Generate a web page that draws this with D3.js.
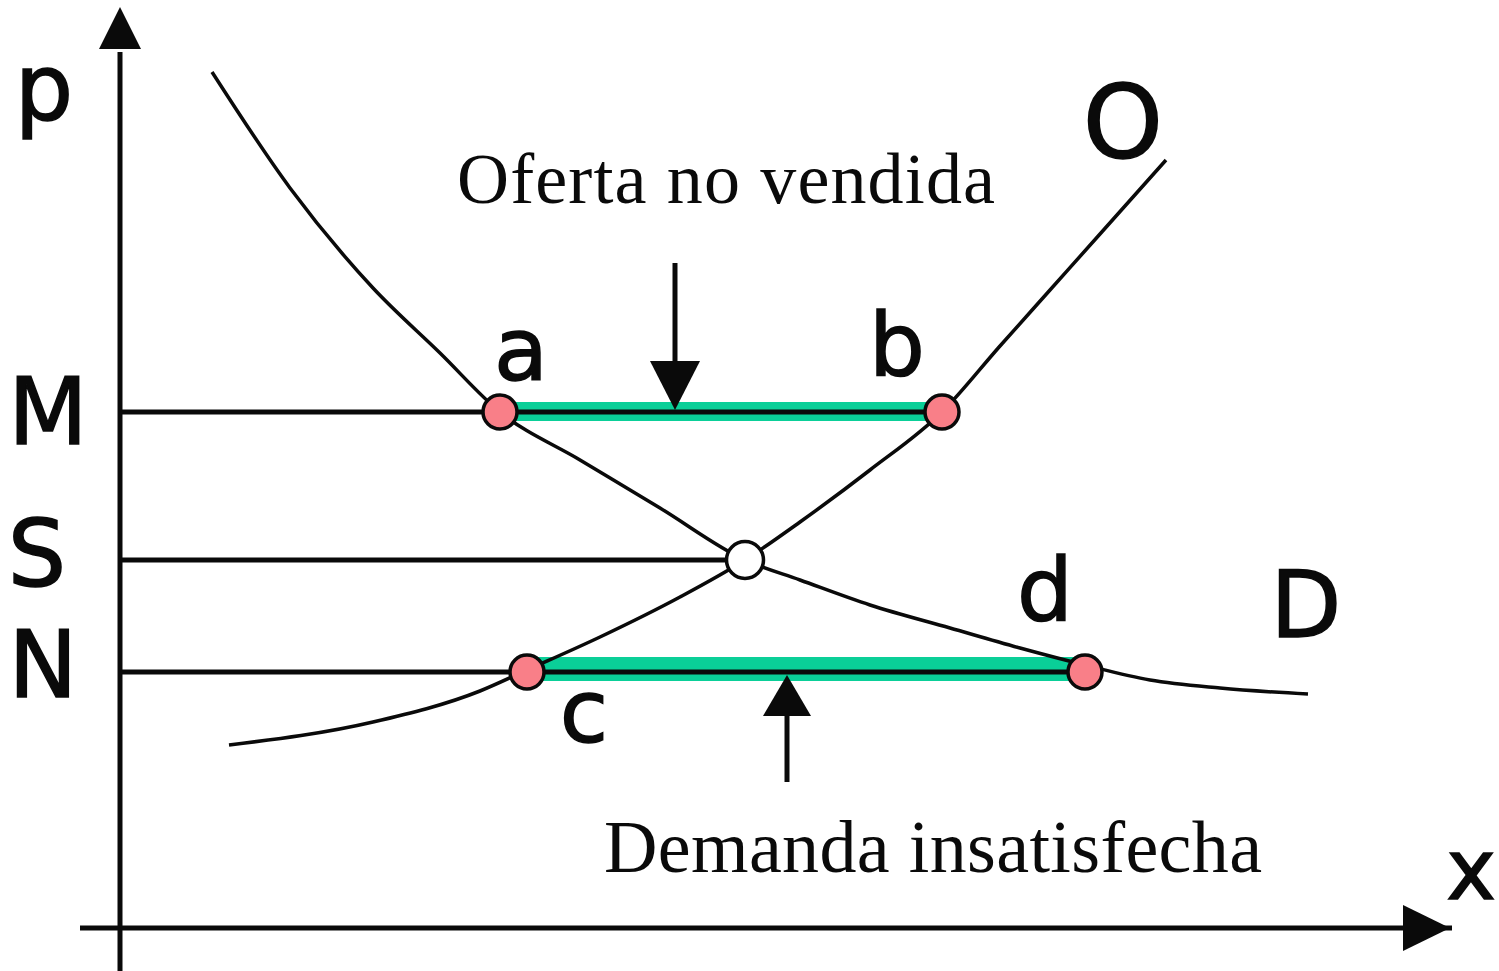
<!DOCTYPE html>
<html>
<head>
<meta charset="utf-8">
<script src="https://cdn.jsdelivr.net/npm/d3@7"></script>
<style>
  html, body { margin: 0; padding: 0; background: #fff; }
  svg { display: block; }
</style>
</head>
<body>
<div id="chart"></div>
<script>
// price levels on the vertical axis
var levelLabels = ["M", "S", "N"];
var levelPrices = [5.16, 3.68, 2.56];

// demand curve (D)
var demandQty   = [0.92, 1.70, 2.53, 3.20, 3.80, 4.60, 5.40, 6.25, 6.80, 7.50, 8.30, 9.00, 9.65, 10.30, 11.00, 11.88];
var demandPrice = [8.56, 7.40, 6.40, 5.75, 5.16, 4.68, 4.20, 3.68, 3.48, 3.23, 3.00, 2.80, 2.63, 2.48, 2.40, 2.34];

// supply curve (O)
var supplyQty   = [1.09, 2.53, 3.60, 4.07, 4.80, 5.60, 6.25, 6.80, 7.50, 8.22, 8.80, 9.30, 9.80, 10.46];
var supplyPrice = [1.83, 2.06, 2.37, 2.58, 2.91, 3.31, 3.68, 4.06, 4.58, 5.16, 5.82, 6.38, 6.94, 7.68];

// marked points
var pointLabels = ["a", "b", "c", "d"];
var pointQty    = [3.80, 8.22, 4.07, 9.65];
var pointPrice  = [5.16, 5.16, 2.56, 2.56];

// equilibrium
var eqQty = 6.25, eqPrice = 3.68;

// annotations
var surplusText  = "Oferta no vendida";
var shortageText = "Demanda insatisfecha";
var surplusArrowQty = 5.55, surplusArrowTop = 6.65;
var shortageArrowQty = 6.67, shortageArrowBottom = 1.46;

var width = 1499, height = 971;
var pink = "#f97f88", green = "#0acf98", ink = "#0a0a0a";

var x = d3.scaleLinear().domain([0, 13.3]).range([120, 1450]);
var y = d3.scaleLinear().domain([0, 9.21]).range([928, 7]);

var svg = d3.select("#chart").append("svg")
    .attr("width", width)
    .attr("height", height)
    .style("background", "#fff");

//axes
svg.append("line")
    .attr("x1", x(0)).attr("x2", x(0))
    .attr("y1", y(8.76)).attr("y2", height)
    .attr("stroke", ink).attr("stroke-width", 5);
svg.append("path")
    .attr("d", "M" + (x(0) - 21) + "," + y(8.79) + "L" + x(0) + "," + y(9.21) + "L" + (x(0) + 21) + "," + y(8.79) + "Z")
    .attr("fill", ink);
svg.append("line")
    .attr("x1", 80).attr("x2", x(13.32))
    .attr("y1", y(0)).attr("y2", y(0))
    .attr("stroke", ink).attr("stroke-width", 5);
svg.append("path")
    .attr("d", "M" + x(12.83) + "," + (y(0) - 23) + "L" + x(13.3) + "," + y(0) + "L" + x(12.83) + "," + (y(0) + 23) + "Z")
    .attr("fill", ink);

var labelFont = "DejaVu Sans, sans-serif";
function bigLabel(px, py, size, anchor, txt) {
    return svg.append("text").attr("x", px).attr("y", py)
        .attr("text-anchor", anchor)
        .attr("font-family", labelFont).attr("font-size", size)
        .attr("fill", ink).attr("stroke", ink).attr("stroke-width", 1.5)
        .text(txt);
}
bigLabel(44, 120, 92, "middle", "p");
bigLabel(1496, 899, 84, "end", "x");

// green bands between the marked points
var bands = [[0, 1, 10, 9], [2, 3, 15, 9]];
bands.forEach(function (b) {
    svg.append("rect")
        .attr("x", x(pointQty[b[0]]))
        .attr("y", y(pointPrice[b[0]]) - b[2])
        .attr("width", x(pointQty[b[1]]) - x(pointQty[b[0]]))
        .attr("height", b[2] + b[3])
        .attr("fill", green);
});

// horizontal price lines
var levelEnds = [pointQty[1], eqQty, pointQty[3]];
levelPrices.forEach(function (p, i) {
    svg.append("line")
        .attr("x1", x(0)).attr("x2", x(levelEnds[i]))
        .attr("y1", y(p)).attr("y2", y(p))
        .attr("stroke", ink).attr("stroke-width", 5);
    bigLabel([48, 37, 43][i], y(p) + [32, 26, 25][i], 92, "middle", levelLabels[i]);
});

// curves
var line = d3.line()
    .x(function (d) { return x(d[0]); })
    .y(function (d) { return y(d[1]); })
    .curve(d3.curveMonotoneX);

svg.append("path")
    .datum(d3.zip(demandQty, demandPrice))
    .attr("d", line)
    .attr("fill", "none").attr("stroke", ink).attr("stroke-width", 3.5);
svg.append("path")
    .datum(d3.zip(supplyQty, supplyPrice))
    .attr("d", line)
    .attr("fill", "none").attr("stroke", ink).attr("stroke-width", 3.5);

bigLabel(1123, 158, 102, "middle", "O");
bigLabel(1306, 637, 92, "middle", "D");

// arrows
svg.append("line")
    .attr("x1", x(surplusArrowQty)).attr("x2", x(surplusArrowQty))
    .attr("y1", y(surplusArrowTop)).attr("y2", y(levelPrices[0]) - 40)
    .attr("stroke", ink).attr("stroke-width", 5);
svg.append("path")
    .attr("d", "M" + (x(surplusArrowQty) - 25) + "," + (y(levelPrices[0]) - 51) +
               "L" + (x(surplusArrowQty) + 25) + "," + (y(levelPrices[0]) - 51) +
               "L" + x(surplusArrowQty) + "," + (y(levelPrices[0]) - 2) + "Z")
    .attr("fill", ink);
svg.append("line")
    .attr("x1", x(shortageArrowQty)).attr("x2", x(shortageArrowQty))
    .attr("y1", y(shortageArrowBottom)).attr("y2", y(levelPrices[2]) + 40)
    .attr("stroke", ink).attr("stroke-width", 5);
svg.append("path")
    .attr("d", "M" + (x(shortageArrowQty) - 24) + "," + (y(levelPrices[2]) + 44) +
               "L" + (x(shortageArrowQty) + 24) + "," + (y(levelPrices[2]) + 44) +
               "L" + x(shortageArrowQty) + "," + (y(levelPrices[2]) + 3) + "Z")
    .attr("fill", ink);

// points
svg.selectAll("circle.pt").data(pointQty)
    .enter().append("circle")
    .attr("class", "pt")
    .attr("cx", function (d) { return x(d); })
    .attr("cy", function (d, i) { return y(pointPrice[i]); })
    .attr("r", 17)
    .attr("fill", pink)
    .attr("stroke", ink).attr("stroke-width", 3.5);

svg.append("circle")
    .attr("cx", x(eqQty)).attr("cy", y(eqPrice))
    .attr("r", 18.5)
    .attr("fill", "#fff")
    .attr("stroke", ink).attr("stroke-width", 3.5);

var labelOffsets = [[21, -32], [-45, -37], [57, 70], [-40, -52]];
pointLabels.forEach(function (l, i) {
    bigLabel(x(pointQty[i]) + labelOffsets[i][0], y(pointPrice[i]) + labelOffsets[i][1], 88, "middle", l);
});

// annotation texts
svg.append("text")
    .attr("x", 457).attr("y", 203)
    .attr("font-family", "Liberation Serif, serif").attr("font-size", 72)
    .attr("textLength", 538).attr("lengthAdjust", "spacing")
    .attr("fill", ink)
    .text(surplusText);
svg.append("text")
    .attr("x", 604).attr("y", 872)
    .attr("font-family", "Liberation Serif, serif").attr("font-size", 74)
    .attr("textLength", 658).attr("lengthAdjust", "spacing")
    .attr("fill", ink)
    .text(shortageText);
</script>
</body>
</html>
